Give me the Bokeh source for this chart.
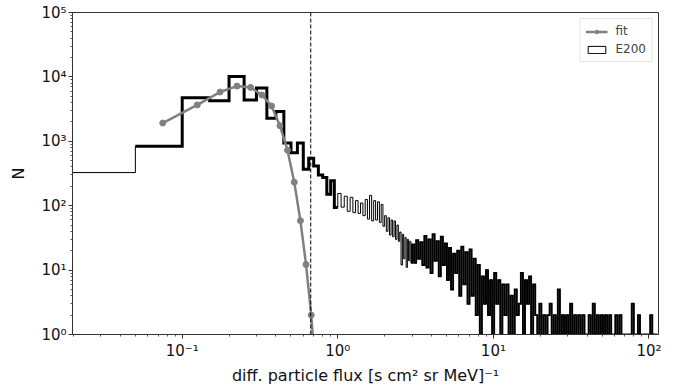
import numpy as np
from bokeh.plotting import figure
from bokeh.models import Range1d, Span, Legend, LegendItem, FixedTicker, CustomJSTickFormatter
from bokeh.embed import file_html
from bokeh.resources import INLINE

# ---- data ----
bin_width = 0.05
# counts of the 0.05-wide bins from 0 to 3.0
counts_low = [327, 838, 4750, 4270, 10100, 4370, 6700, 2290, 2900, 940,
              665, 940, 367, 545, 412, 300, 273, 151, 243, 94,
              155, 95, 140, 82, 135, 78, 120, 76, 110, 70,
              125, 62, 145, 58, 120, 60, 115, 55, 105, 48,
              70, 40, 65, 35, 60, 33, 58, 30, 50, 28,
              39, 12, 36, 15, 32, 11, 30, 14, 28, 13]
# tail (3.0 .. 115), narrow bins, counts
tail_start, tail_stop = 3.0, 115.0
tail_counts = [25, 13, 29, 15, 27, 12,
               34, 11, 30, 9, 36, 14, 28,
               8, 33, 12, 26, 7,
               22, 5, 18, 9, 20, 4,
               23, 6, 19, 3, 21,
               4, 15, 2, 12,
               0, 8, 3,
               10, 2, 7, 0, 9,
               3, 7, 1, 6, 2,
               6, 1, 4, 0, 5, 2, 3,
               9, 1, 7, 3, 8, 0,
               6,
               2, 1, 3, 0, 2, 1, 2, 3, 1, 2, 0, 5, 1,
               2, 1, 2, 0, 3, 1, 2, 1, 2, 0, 2, 1, 1, 2, 0,
               3, 1, 2, 1, 2, 0, 2, 1, 2, 0, 1, 2, 1, 2, 0,
               1, 0, 1, 1, 3, 0, 1, 2, 1, 0, 1, 1, 0, 2, 1, 1, 0]
thick_first_bin, thick_last_bin = 1, 19   # bins drawn with the heavy outline

fit_flux = [0.075, 0.125, 0.175, 0.225, 0.275, 0.325, 0.375, 0.425,
            0.475, 0.525, 0.575, 0.625, 0.675, 0.725]
fit_n = [1920, 3670, 5820, 7200, 6870, 5230, 3540, 1740,
         727, 232, 58.5, 12.2, 2.0, 0.2]
cut_flux = 0.67

x_ticks = [0.1, 1, 10, 100]
y_ticks = [1, 10, 100, 1000, 10000, 100000]

# ---- build histogram outline ----
low_edges = np.arange(len(counts_low) + 1) * bin_width
tail_edges = np.geomspace(tail_start, tail_stop, len(tail_counts) + 1)
edges = np.concatenate([low_edges, tail_edges[1:]])
counts = np.array(counts_low + tail_counts, dtype=float)

floor_val = 0.3   # where empty bins are drawn (below the visible range)
cplot = np.where(counts > 0, counts, floor_val)
eplot = np.where(edges > 0, edges, 1e-3)

hx = list(np.repeat(eplot, 2)[1:-1]) + [eplot[-1]]
hy = list(np.repeat(cplot, 2)) + [floor_val]

tx = np.repeat(eplot[thick_first_bin:thick_last_bin + 2], 2)[1:-1]
ty = np.repeat(cplot[thick_first_bin:thick_last_bin + 1], 2)

n_low = len(counts_low)
dx = list(np.repeat(eplot[n_low - 1:], 2)[1:-1]) + [eplot[-1]]
dy = list(np.repeat(cplot[n_low - 1:], 2)) + [floor_val]

# ---- figure ----
p = figure(width=686, height=387, x_axis_type="log", y_axis_type="log",
           x_range=Range1d(0.01972, 115.1), y_range=Range1d(1, 1e5),
           output_backend="svg", toolbar_location=None,
           min_border_left=72, min_border_right=28, min_border_top=12,
           min_border_bottom=50)
p.background_fill_color = "white"
p.border_fill_color = "white"
p.outline_line_color = "#333333"
p.outline_line_width = 1
p.xgrid.visible = False
p.ygrid.visible = False

hist_thin = p.line(hx, hy, line_color="black", line_width=1, line_join="miter")
hist_dense = p.line(dx, dy, line_color="black", line_width=1.9, line_join="miter")
hist_thick = p.line(tx, ty, line_color="black", line_width=3, line_join="miter")
legend_box = p.quad(left=[np.nan], right=[np.nan], top=[np.nan], bottom=[np.nan],
                    fill_color="white", line_color="black", line_width=1)

fit_line = p.line(fit_flux, fit_n, line_color="#808080", line_width=2.5)
fit_pts = p.scatter(fit_flux, fit_n, marker="circle", size=6,
                    fill_color="#808080", line_color="#808080")

cut = Span(location=cut_flux, dimension="height", line_color="black",
           line_width=1, line_dash="4 2")
p.add_layout(cut)

def minor(lo, hi):
    return [m * 10.0 ** d for d in range(lo, hi) for m in range(2, 10)]

fmt = CustomJSTickFormatter(code="""
const e = Math.round(Math.log10(tick));
const sup = {"-": "\\u207b", "0": "\\u2070", "1": "\\u00b9", "2": "\\u00b2", "3": "\\u00b3",
             "4": "\\u2074", "5": "\\u2075", "6": "\\u2076", "7": "\\u2077", "8": "\\u2078", "9": "\\u2079"};
return "10" + String(e).split("").map(c => sup[c]).join("");
""")

p.xaxis.ticker = FixedTicker(ticks=x_ticks, minor_ticks=minor(-2, 3))
p.yaxis.ticker = FixedTicker(ticks=y_ticks, minor_ticks=minor(0, 5))
for ax in (p.xaxis, p.yaxis):
    ax.formatter = fmt
    ax.axis_line_color = "#333333"
    ax.major_tick_line_color = "#333333"
    ax.minor_tick_line_color = "#555555"
    ax.major_tick_out = 4
    ax.major_tick_in = 0
    ax.minor_tick_out = 2
    ax.minor_tick_in = 0
    ax.major_label_text_font = "DejaVu Sans"
    ax.major_label_text_font_size = "15px"
    ax.major_label_text_color = "#111111"
    ax.axis_label_text_font = "DejaVu Sans"
    ax.axis_label_text_font_size = "16px"
    ax.axis_label_text_font_style = "normal"
    ax.axis_label_text_color = "#111111"

p.xaxis.axis_label = "diff. particle flux [s cm\u00b2 sr MeV]\u207b\u00b9"
p.yaxis.axis_label = "N"
p.xaxis.major_label_standoff = 3
p.yaxis.major_label_standoff = 2
p.xaxis.axis_label_standoff = 3
p.yaxis.axis_label_standoff = 10

legend = Legend(items=[LegendItem(label="fit", renderers=[fit_line, fit_pts]),
                       LegendItem(label="E200", renderers=[legend_box])],
                location="top_right")
legend.label_text_font = "DejaVu Sans"
legend.label_text_font_size = "12px"
legend.border_line_color = "#cccccc"
legend.border_line_width = 1
legend.background_fill_alpha = 0.9
legend.glyph_width = 22
legend.glyph_height = 9
legend.label_standoff = 8
legend.padding = 5
legend.spacing = 4
legend.margin = 6
p.add_layout(legend)

open("out.html", "w").write(file_html(p, INLINE))
